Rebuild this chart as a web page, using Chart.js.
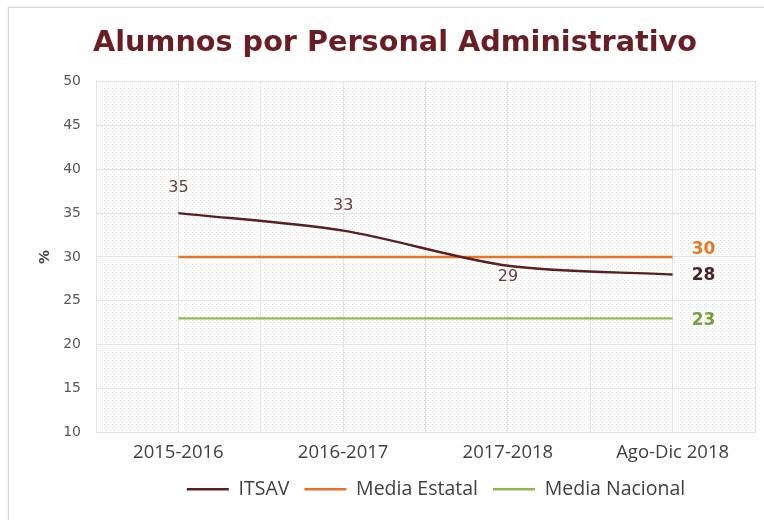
<!DOCTYPE html>
<html><head><meta charset="utf-8">
<script src="https://cdn.jsdelivr.net/npm/chart.js@4/dist/chart.umd.min.js"></script>
<style>
html,body{margin:0;padding:0;background:#fff;}
#card{position:absolute;left:8px;top:7px;width:800px;height:600px;border:1px solid #d6d6d6;box-shadow:0 0 3px rgba(0,0,0,0.12);}
#wrap{position:absolute;left:0;top:0;width:764px;height:520px;}
</style></head>
<body>
<div id="card"></div>
<div id="wrap"><canvas id="c" width="764" height="520"></canvas></div>
<script>
const categories = ['2015-2016','2016-2017','2017-2018','Ago-Dic 2018'];
const itsav = [35, 33, 29, 28];
const mediaEstatal = [30, 30, 30, 30];
const mediaNacional = [23, 23, 23, 23];
const yTicks = [10,15,20,25,30,35,40,45,50];

function pts(arr){ return arr.map((v,i)=>({x:i,y:v})); }

const pc = document.createElement('canvas');
pc.width = 4; pc.height = 4;
const pctx = pc.getContext('2d');
pctx.fillStyle = '#ffffff'; pctx.fillRect(0,0,4,4);
pctx.fillStyle = '#e4e4e4';
pctx.fillRect(0,0,1,1); pctx.fillRect(2,2,1,1);

const bgPlugin = {
  id:'bg',
  beforeDraw(chart){
    const {ctx, chartArea:a} = chart;
    ctx.save();
    ctx.fillStyle = ctx.createPattern(pc,'repeat');
    ctx.fillRect(a.left,a.top,a.right-a.left,a.bottom-a.top);
    ctx.restore();
  }
};

const legendShift = {
  id:'legendShift',
  afterLayout(chart){
    if (chart.legend){ chart.legend.left += 41; chart.legend.right += 41; }
  }
};

const labelPlugin = {
  id:'labels',
  afterDatasetsDraw(chart){
    const ctx = chart.ctx;
    const xs = chart.scales.x, ys = chart.scales.y;
    ctx.save();
    ctx.textAlign = 'center';
    ctx.textBaseline = 'middle';
    ctx.font = '16px "DejaVu Sans", Verdana, sans-serif';
    ctx.fillStyle = '#6b3a3e';
    const pos = ['above','above','below'];
    for (let i=0;i<3;i++){
      const x = xs.getPixelForValue(i), y = ys.getPixelForValue(itsav[i]);
      ctx.fillText(String(itsav[i]), x, pos[i]==='above' ? y-25 : y+11);
    }
    ctx.font = 'bold 17px "DejaVu Sans", Verdana, sans-serif';
    ctx.textAlign = 'left';
    const lx = xs.getPixelForValue(3) + 19;
    ctx.fillStyle = '#4a2328';
    ctx.fillText(String(itsav[3]), lx, ys.getPixelForValue(itsav[3]) + 1);
    ctx.fillStyle = '#e47a24';
    ctx.fillText(String(mediaEstatal[3]), lx, ys.getPixelForValue(mediaEstatal[3])-7);
    ctx.fillStyle = '#76a03a';
    ctx.fillText(String(mediaNacional[3]), lx, ys.getPixelForValue(mediaNacional[3])+2);
    ctx.restore();
  }
};

new Chart(document.getElementById('c'), {
  type:'line',
  data:{
    datasets:[
      {label:'ITSAV', data:pts(itsav), borderColor:'#5a1e24', backgroundColor:'#5a1e24', borderWidth:2.4, pointRadius:0, tension:0.3},
      {label:'Media Estatal', data:pts(mediaEstatal), borderColor:'#ea7426', backgroundColor:'#ea7426', borderWidth:2.4, pointRadius:0},
      {label:'Media Nacional', data:pts(mediaNacional), borderColor:'#92b752', backgroundColor:'#92b752', borderWidth:2.4, pointRadius:0}
    ]
  },
  options:{
    responsive:false,
    animation:false,
    layout:{padding:{left:25, right:-1, top:8, bottom:11}},
    plugins:{
      title:{display:true, text:'Alumnos por Personal Administrativo', color:'#6a1d22',
        font:{family:'"DejaVu Sans", Verdana, sans-serif', size:28.7, weight:'bold'},
        padding:{top:18, bottom:21}},
      legend:{position:'bottom', labels:{usePointStyle:true, pointStyle:'line', pointStyleWidth:42, boxHeight:2,
        color:'#404040', font:{family:'"Open Sans", sans-serif', size:19.5}, padding:15}},
      tooltip:{enabled:false}
    },
    scales:{
      x:{type:'linear', min:-0.5, max:3.5,
        afterFit:(s)=>{ s.height = 32; },
        ticks:{stepSize:0.5, autoSkip:false, maxRotation:0, minRotation:0, color:'#404040', padding:9,
          font:{family:'"Open Sans", sans-serif', size:18.5},
          callback:(v)=> Number.isInteger(v) ? categories[v] : ''},
        grid:{color:'#e4e4e4', drawTicks:false}, border:{color:'#e4e4e4'}},
      y:{min:10, max:50,
        afterFit:(s)=>{ s.width = 71; },
        afterBuildTicks:(s)=>{ s.ticks = yTicks.map(v=>({value:v})); },
        ticks:{color:'#595959', padding:15, font:{family:'"DejaVu Sans", Verdana, sans-serif', size:14}},
        title:{display:true, text:'%', color:'#404040', padding:{top:12, bottom:4}, font:{family:'"DejaVu Sans", Verdana, sans-serif', size:14, weight:'bold'}},
        grid:{color:'#e4e4e4', drawTicks:false}, border:{display:false}}
    }
  },
  plugins:[bgPlugin, legendShift, labelPlugin]
});
</script>
</body></html>
